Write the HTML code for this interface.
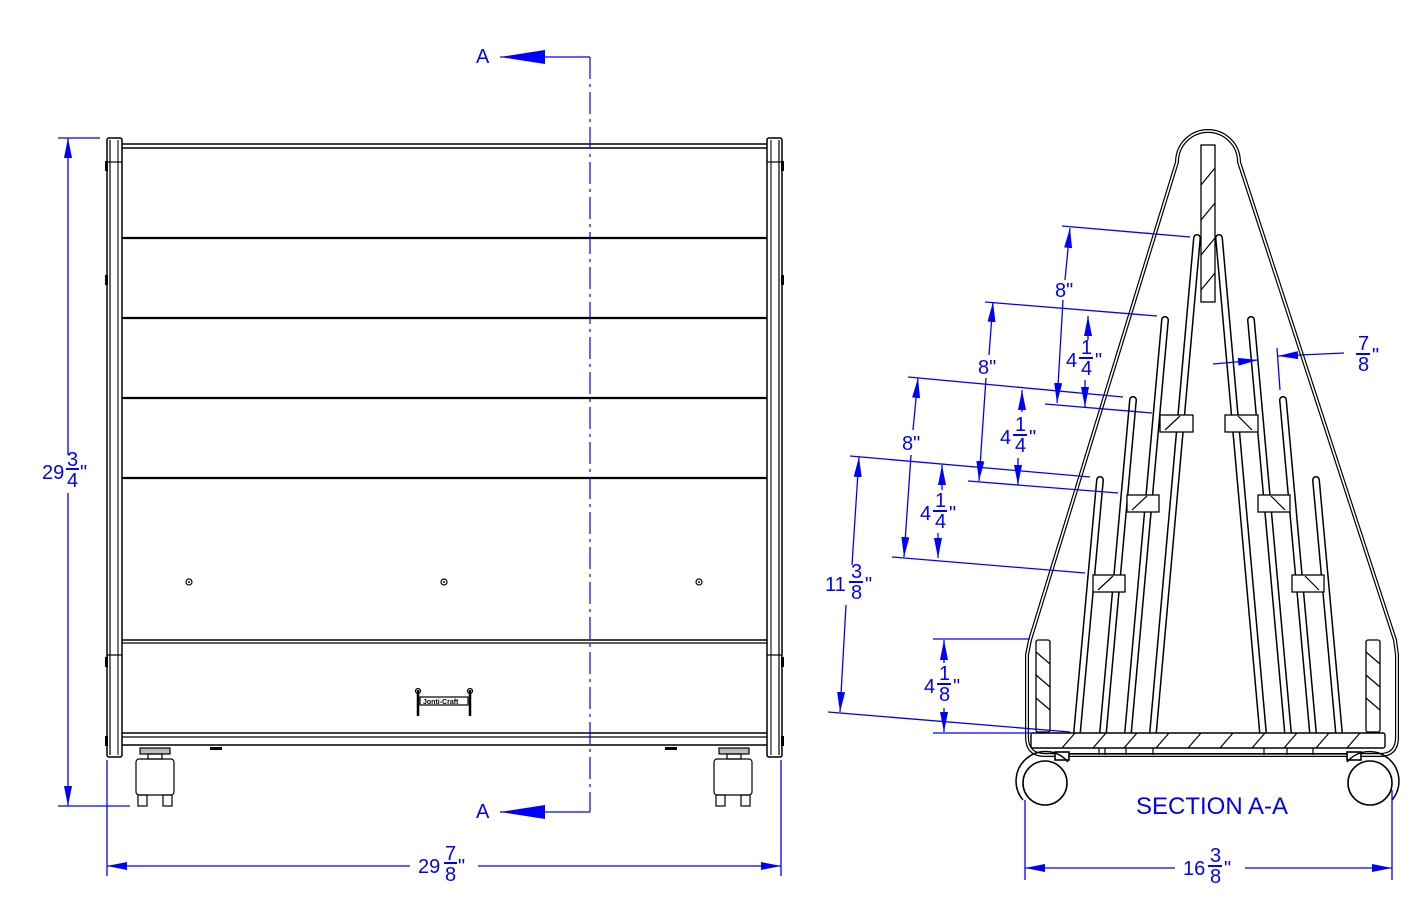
<!DOCTYPE html>
<html><head><meta charset="utf-8"><style>
html,body{margin:0;padding:0;background:#fff;}
svg{display:block;font-family:"Liberation Sans",sans-serif;}
.b{fill:#0000ff;font-size:20px;}
.bl{stroke:#0000ff;stroke-width:1.3;fill:none;}
.k{stroke:#000;fill:none;stroke-width:1.2;}
</style></head><body>
<svg width="1418" height="916" viewBox="0 0 1418 916" xmlns="http://www.w3.org/2000/svg">
<defs>
<marker id="ar" viewBox="0 0 20 8" refX="20" refY="4" markerWidth="20" markerHeight="8" markerUnits="userSpaceOnUse" orient="auto"><path d="M0,0 L20,4 L0,8 z" fill="#0000ff"/></marker>
</defs>

<!-- ================= FRONT VIEW ================= -->
<g class="k">
  <rect x="107" y="138" width="15" height="619" rx="2" stroke-width="1.5"/>
  <line x1="110" y1="140" x2="110" y2="755"/>
  <line x1="118" y1="140" x2="118" y2="755" stroke="#777" stroke-width="2"/>
  <line x1="107" y1="162" x2="122" y2="162"/>
  <line x1="107" y1="655" x2="122" y2="655"/>
  <rect x="767" y="138" width="15" height="619" rx="2" stroke-width="1.5"/>
  <line x1="771" y1="140" x2="771" y2="755" stroke="#777" stroke-width="2"/>
  <line x1="779" y1="140" x2="779" y2="755"/>
  <line x1="767" y1="162" x2="782" y2="162"/>
  <line x1="767" y1="655" x2="782" y2="655"/>
  <line x1="122" y1="144" x2="767" y2="144" stroke-width="1.4"/>
  <line x1="122" y1="148" x2="767" y2="148" stroke-width="1.4"/>
  <line x1="122" y1="238" x2="767" y2="238" stroke-width="2.2"/>
  <line x1="122" y1="318" x2="767" y2="318" stroke-width="2.2"/>
  <line x1="122" y1="398" x2="767" y2="398" stroke-width="2.2"/>
  <line x1="122" y1="478" x2="767" y2="478" stroke-width="2.2"/>
  <line x1="122" y1="640" x2="767" y2="640" stroke-width="1.4"/>
  <line x1="122" y1="643" x2="767" y2="643" stroke-width="1.2"/>
  <line x1="122" y1="733" x2="767" y2="733" stroke-width="1.4"/>
  <line x1="122" y1="737" x2="767" y2="737" stroke-width="1.2"/>
  <line x1="122" y1="745" x2="767" y2="745" stroke-width="1.6"/>
</g>
<g fill="#000">
  <rect x="105" y="161" width="3" height="10"/><rect x="105" y="275" width="3" height="10"/>
  <rect x="105" y="657" width="3" height="10"/><rect x="105" y="736" width="3" height="10"/>
  <rect x="781" y="161" width="3" height="10"/><rect x="781" y="275" width="3" height="10"/>
  <rect x="781" y="657" width="3" height="10"/><rect x="781" y="736" width="3" height="10"/>
  <rect x="210" y="747" width="12" height="3"/><rect x="665" y="747" width="12" height="3"/>
</g>
<g class="k"><circle cx="189" cy="582" r="3"/><circle cx="444" cy="582" r="3"/><circle cx="699" cy="582" r="3"/></g>
<g fill="#000"><circle cx="189" cy="582" r="1"/><circle cx="444" cy="582" r="1"/><circle cx="699" cy="582" r="1"/></g>
<g class="k">
  <rect x="420" y="697" width="48" height="8"/>
  <line x1="418" y1="690" x2="418" y2="716" stroke-width="2.5"/>
  <line x1="470" y1="690" x2="470" y2="716" stroke-width="2.5"/>
  <circle cx="418" cy="691" r="2.5"/><circle cx="470" cy="691" r="2.5"/>
</g>
<text x="423" y="704" font-size="7" font-weight="bold">Jonti-Craft</text>
<g class="k" stroke-width="1.3">
  <rect x="140" y="748" width="30" height="6" fill="#bbb"/>
  <rect x="148" y="754" width="14" height="5"/>
  <rect x="136" y="759" width="38" height="36" rx="3"/>
  <rect x="138" y="795" width="9" height="11"/><rect x="163" y="795" width="9" height="11"/>
  <rect x="719" y="748" width="30" height="6" fill="#bbb"/>
  <rect x="727" y="754" width="14" height="5"/>
  <rect x="714" y="759" width="38" height="36" rx="3"/>
  <rect x="716" y="795" width="9" height="11"/><rect x="741" y="795" width="9" height="11"/>
</g>

<line x1="590" y1="57" x2="590" y2="812" stroke="#0000ff" stroke-width="1.2" stroke-dasharray="22,5,3,5"/>
<line x1="590" y1="57" x2="500" y2="57" class="bl"/>
<path d="M500,57 L545,50 L545,64 z" fill="#0000ff"/>
<line x1="590" y1="812" x2="500" y2="812" class="bl"/>
<path d="M500,812 L545,805 L545,819 z" fill="#0000ff"/>
<text x="476" y="63" class="b" font-size="24">A</text>
<text x="476" y="818" class="b" font-size="24">A</text>

<line x1="58" y1="138" x2="100" y2="138" class="bl"/>
<line x1="58" y1="806" x2="130" y2="806" class="bl"/>
<line x1="68" y1="455" x2="68" y2="138" class="bl" marker-end="url(#ar)"/>
<line x1="68" y1="493" x2="68" y2="806" class="bl" marker-end="url(#ar)"/>
<text x="42" y="479" class="b">29</text>
<text x="67" y="466" class="b">3</text><line x1="66" y1="469" x2="79" y2="469" stroke="#0000ff" stroke-width="2"/>
<text x="67" y="487" class="b">4</text><text x="80" y="479" class="b">"</text>

<line x1="107" y1="760" x2="107" y2="876" class="bl"/>
<line x1="781" y1="760" x2="781" y2="876" class="bl"/>
<line x1="410" y1="866" x2="107" y2="866" class="bl" marker-end="url(#ar)"/>
<line x1="478" y1="866" x2="781" y2="866" class="bl" marker-end="url(#ar)"/>
<text x="418" y="873" class="b">29</text>
<text x="445" y="860" class="b">7</text><line x1="444" y1="863" x2="457" y2="863" stroke="#0000ff" stroke-width="2"/>
<text x="445" y="881" class="b">8</text><text x="458" y="873" class="b">"</text>

<!-- ================= SECTION A-A ================= -->
<path d="M1027,737 L1027,655 L1030,640 L1177,162 A31,31 0 0 1 1239,162 L1395,640 L1397,655 L1397,737 Q1397,755 1380,755 L1045,755 Q1027,755 1027,737 Z" fill="none" stroke="#000" stroke-width="4"/>
<path d="M1027,737 L1027,655 L1030,640 L1177,162 A31,31 0 0 1 1239,162 L1395,640 L1397,655 L1397,737 Q1397,755 1380,755 L1045,755 Q1027,755 1027,737 Z" fill="none" stroke="#fff" stroke-width="1.6"/>

<g fill="none" stroke-linecap="round">
  <g stroke="#000" stroke-width="8">
    <path d="M1197,238 L1153,733"/><path d="M1165,320 L1128,733"/><path d="M1133,400 L1103,733"/><path d="M1100,480 L1077,733"/>
    <path d="M1219,238 L1263,733"/><path d="M1251,320 L1288,733"/><path d="M1283,400 L1313,733"/><path d="M1316,480 L1339,733"/>
  </g>
  <g stroke="#fff" stroke-width="5">
    <path d="M1197,238 L1153,733"/><path d="M1165,320 L1128,733"/><path d="M1133,400 L1103,733"/><path d="M1100,480 L1077,733"/>
    <path d="M1219,238 L1263,733"/><path d="M1251,320 L1288,733"/><path d="M1283,400 L1313,733"/><path d="M1316,480 L1339,733"/>
  </g>
</g>
<rect x="1201" y="145" width="14" height="157" fill="#fff" stroke="#000" stroke-width="1.3"/>
<g class="k"><line x1="1201" y1="185" x2="1215" y2="168"/><line x1="1201" y1="220" x2="1215" y2="203"/><line x1="1201" y1="255" x2="1215" y2="238"/><line x1="1201" y1="290" x2="1215" y2="273"/></g>
<g fill="#fff" stroke="#000" stroke-width="1.3">
  <rect x="1160" y="415" width="33" height="17"/><rect x="1225" y="415" width="33" height="17"/>
  <rect x="1127" y="495" width="32" height="17"/><rect x="1258" y="495" width="32" height="17"/>
  <rect x="1093" y="575" width="32" height="17"/><rect x="1292" y="575" width="32" height="17"/>
</g>
<g class="k">
  <line x1="1165" y1="430" x2="1180" y2="416"/><line x1="1132" y1="510" x2="1147" y2="496"/><line x1="1098" y1="590" x2="1113" y2="576"/>
  <line x1="1238" y1="416" x2="1252" y2="430"/><line x1="1271" y1="496" x2="1285" y2="510"/><line x1="1305" y1="576" x2="1319" y2="590"/>
</g>
<g fill="#fff" stroke="#000" stroke-width="1.3">
  <rect x="1036" y="640" width="14" height="92" rx="2"/><rect x="1366" y="640" width="14" height="92" rx="2"/>
</g>
<g class="k">
  <line x1="1036" y1="652" x2="1050" y2="664"/><line x1="1036" y1="675" x2="1050" y2="687"/><line x1="1036" y1="698" x2="1050" y2="710"/>
  <line x1="1366" y1="652" x2="1380" y2="664"/><line x1="1366" y1="675" x2="1380" y2="687"/><line x1="1366" y1="698" x2="1380" y2="710"/>
</g>
<rect x="1031" y="733" width="354" height="15" rx="2" fill="#fff" stroke="#000" stroke-width="1.4"/>
<g class="k">
  <line x1="1062" y1="748" x2="1075" y2="733"/><line x1="1093" y1="748" x2="1106" y2="733"/><line x1="1124" y1="748" x2="1137" y2="733"/>
  <line x1="1156" y1="748" x2="1169" y2="733"/><line x1="1188" y1="748" x2="1201" y2="733"/><line x1="1220" y1="748" x2="1233" y2="733"/>
  <line x1="1252" y1="748" x2="1265" y2="733"/><line x1="1284" y1="748" x2="1297" y2="733"/><line x1="1316" y1="748" x2="1329" y2="733"/>
  <line x1="1347" y1="748" x2="1360" y2="733"/>
  <line x1="1060" y1="754" x2="1360" y2="754"/>
  <line x1="1099" y1="748" x2="1099" y2="755"/><line x1="1105" y1="748" x2="1105" y2="755"/><line x1="1126" y1="748" x2="1126" y2="755"/>
  <line x1="1153" y1="748" x2="1153" y2="755"/><line x1="1264" y1="748" x2="1264" y2="755"/><line x1="1287" y1="748" x2="1287" y2="755"/>
  <line x1="1313" y1="748" x2="1313" y2="755"/>
</g>
<g fill="#fff" stroke="#000" stroke-width="1.6">
  <rect x="1055" y="752" width="14" height="8"/><rect x="1347" y="752" width="14" height="8"/>
  <circle cx="1045" cy="783" r="22"/><circle cx="1370" cy="783" r="22"/>
</g>
<g fill="none" stroke="#000" stroke-width="1.5">
  <path d="M1023,800 A26,26 0 0 1 1068,762"/><path d="M1392,800 A26,26 0 0 0 1347,762"/>
</g>

<g class="bl">
  <line x1="1062" y1="226" x2="1190" y2="237"/>
  <line x1="985" y1="302" x2="1157" y2="316"/>
  <line x1="908" y1="377" x2="1123" y2="397"/>
  <line x1="1045" y1="404" x2="1152" y2="413"/>
  <line x1="850" y1="456" x2="1090" y2="477"/>
  <line x1="968" y1="481" x2="1118" y2="493"/>
  <line x1="892" y1="557" x2="1085" y2="573"/>
  <line x1="933" y1="639" x2="1030" y2="639"/>
  <line x1="828" y1="712" x2="1070" y2="732"/>
  <line x1="933" y1="733" x2="1033" y2="733"/>
  <line x1="1065" y1="280" x2="1070" y2="228" marker-end="url(#ar)"/>
  <line x1="1063" y1="300" x2="1057" y2="403" marker-end="url(#ar)"/>
  <line x1="1088" y1="340" x2="1088" y2="316" marker-end="url(#ar)"/>
  <line x1="1085" y1="380" x2="1085" y2="407" marker-end="url(#ar)"/>
  <line x1="989" y1="355" x2="993" y2="302" marker-end="url(#ar)"/>
  <line x1="986" y1="378" x2="979" y2="481" marker-end="url(#ar)"/>
  <line x1="1022" y1="412" x2="1022" y2="390" marker-end="url(#ar)"/>
  <line x1="1018" y1="458" x2="1018" y2="485" marker-end="url(#ar)"/>
  <line x1="913" y1="430" x2="918" y2="378" marker-end="url(#ar)"/>
  <line x1="911" y1="455" x2="904" y2="557" marker-end="url(#ar)"/>
  <line x1="942" y1="490" x2="942" y2="465" marker-end="url(#ar)"/>
  <line x1="938" y1="533" x2="938" y2="558" marker-end="url(#ar)"/>
  <line x1="852" y1="565" x2="859" y2="457" marker-end="url(#ar)"/>
  <line x1="846" y1="605" x2="840" y2="712" marker-end="url(#ar)"/>
  <line x1="944" y1="663" x2="944" y2="640" marker-end="url(#ar)"/>
  <line x1="944" y1="708" x2="944" y2="732" marker-end="url(#ar)"/>
  <line x1="1213" y1="364" x2="1258" y2="360" marker-end="url(#ar)"/>
  <line x1="1344" y1="353" x2="1278" y2="356" marker-end="url(#ar)"/>
  <line x1="1277" y1="348" x2="1280" y2="390"/>
  <line x1="1025" y1="800" x2="1025" y2="880" />
  <line x1="1392" y1="790" x2="1392" y2="880" />
  <line x1="1175" y1="868" x2="1025" y2="868" marker-end="url(#ar)"/>
  <line x1="1245" y1="868" x2="1392" y2="868" marker-end="url(#ar)"/>
</g>
<g class="b">
  <text x="1055" y="297">8"</text>
  <text x="978" y="374">8"</text>
  <text x="902" y="450">8"</text>
  <text x="1066" y="367">4</text><text x="1081" y="354">1</text><line x1="1079" y1="358" x2="1093" y2="358" stroke="#0000ff" stroke-width="2"/><text x="1081" y="375">4</text><text x="1095" y="367">"</text>
  <text x="1000" y="444">4</text><text x="1015" y="431">1</text><line x1="1013" y1="435" x2="1027" y2="435" stroke="#0000ff" stroke-width="2"/><text x="1015" y="452">4</text><text x="1029" y="444">"</text>
  <text x="920" y="520">4</text><text x="935" y="507">1</text><line x1="933" y1="511" x2="947" y2="511" stroke="#0000ff" stroke-width="2"/><text x="935" y="528">4</text><text x="949" y="520">"</text>
  <text x="924" y="693">4</text><text x="939" y="680">1</text><line x1="937" y1="684" x2="951" y2="684" stroke="#0000ff" stroke-width="2"/><text x="939" y="701">8</text><text x="953" y="693">"</text>
  <text x="825" y="591">11</text><text x="851" y="578">3</text><line x1="849" y1="582" x2="863" y2="582" stroke="#0000ff" stroke-width="2"/><text x="851" y="599">8</text><text x="865" y="591">"</text>
  <text x="1358" y="350">7</text><line x1="1356" y1="354" x2="1370" y2="354" stroke="#0000ff" stroke-width="2"/><text x="1358" y="371">8</text><text x="1372" y="362">"</text>
  <text x="1183" y="875">16</text><text x="1210" y="862">3</text><line x1="1208" y1="866" x2="1222" y2="866" stroke="#0000ff" stroke-width="2"/><text x="1210" y="883">8</text><text x="1224" y="875">"</text>
  <text x="1136" y="814" font-size="24">SECTION A-A</text>
</g>
</svg>
</body></html>
